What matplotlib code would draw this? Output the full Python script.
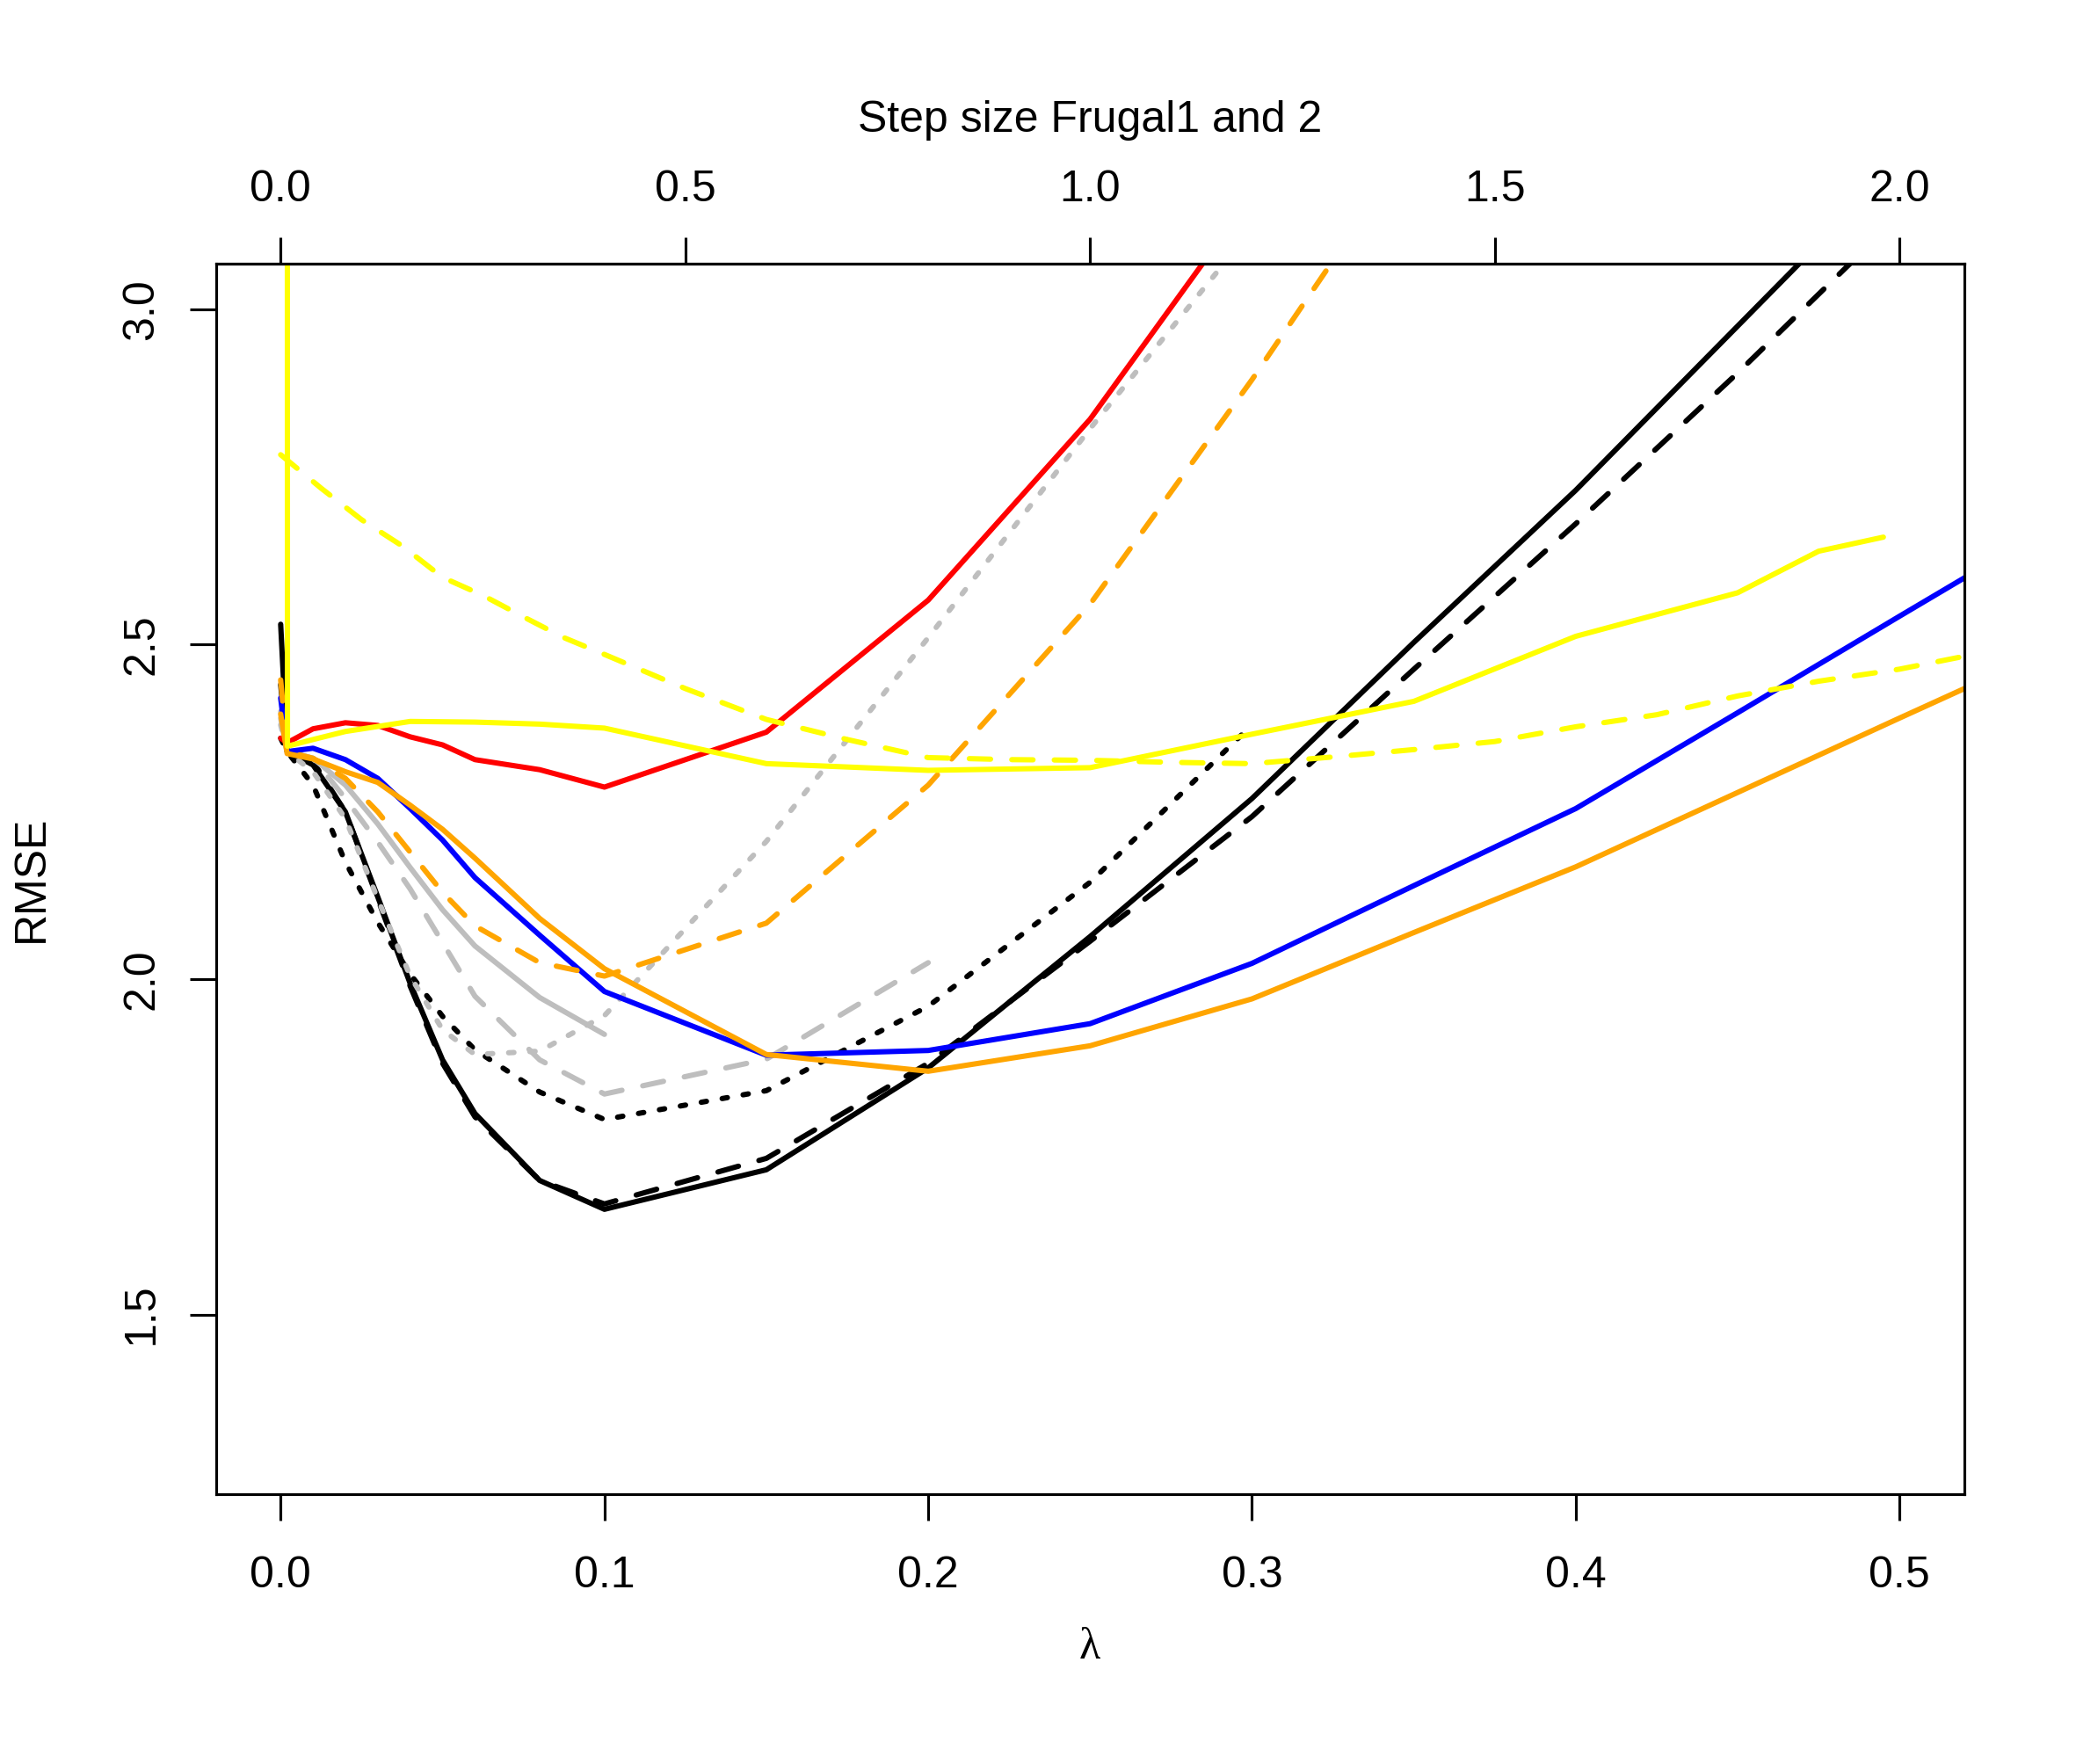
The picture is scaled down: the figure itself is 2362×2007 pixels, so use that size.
import matplotlib
matplotlib.use("Agg")
import matplotlib.pyplot as plt
import numpy as np

plt.rcParams['font.family'] = ['Liberation Sans', 'DejaVu Sans']
plt.rcParams['font.size'] = 12

# ---- data ----
lam = [0, 0.002, 0.01, 0.02, 0.03, 0.04, 0.05, 0.06, 0.08, 0.1,
       0.15, 0.2, 0.25, 0.3, 0.35, 0.4, 0.45, 0.5, 0.55]

black_solid = [2.53, 2.341, 2.32, 2.25, 2.123, 1.994, 1.88, 1.80, 1.70, 1.657,
               1.716, 1.868, 2.064, 2.27, 2.503, 2.730, 2.975, 3.22]
black_dashed = [2.44, 2.34, 2.325, 2.25, 2.12, 1.99, 1.875, 1.795, 1.70, 1.665,
                1.733, 1.875, 2.057, 2.243, 2.463, 2.68, 2.905, 3.14]
black_dotted = [2.36, 2.34, 2.29, 2.175, 2.085, 2.008, 1.945, 1.895, 1.832, 1.791,
                1.834, 1.96, 2.145, 2.38]
grey_solid = [2.40, 2.34, 2.33, 2.29, 2.232, 2.167, 2.104, 2.05, 1.973, 1.918]
grey_dashed = [2.39, 2.34, 2.33, 2.27, 2.205, 2.135, 2.055, 1.975, 1.88, 1.829,
               1.881, 2.025]
grey_dotted = [2.38, 2.34, 2.31, 2.24, 2.12, 2.005, 1.925, 1.888, 1.893, 1.946,
               2.206, 2.51, 2.822, 3.12]
blue = [2.42, 2.34, 2.345, 2.328, 2.30, 2.255, 2.208, 2.152, 2.066, 1.982,
        1.887, 1.894, 1.934, 2.024, 2.14, 2.255, 2.398, 2.542, 2.685]
red = [2.36, 2.353, 2.374, 2.383, 2.379, 2.362, 2.350, 2.328, 2.313, 2.287,
       2.369, 2.566, 2.836, 3.17]
orange_solid = [2.396, 2.337, 2.329, 2.31, 2.294, 2.26, 2.224, 2.181, 2.091, 2.016,
                1.888, 1.863, 1.901, 1.971, 2.07, 2.168, 2.279, 2.39, 2.50]
orange_dashed = [2.447, 2.34, 2.33, 2.30, 2.25, 2.19, 2.13, 2.08, 2.025, 2.005,
                 2.084, 2.29, 2.56, 2.895, 3.25]

frugal1_x = [0.002, 0.0021, 0.01, 0.02, 0.04, 0.06, 0.08, 0.1, 0.15, 0.2,
             0.25, 0.3, 0.35, 0.4, 0.45, 0.475, 0.495]
yellow_solid = [5.0, 2.348, 2.358, 2.370, 2.385, 2.384, 2.381, 2.375, 2.322, 2.312,
                2.316, 2.366, 2.415, 2.512, 2.577, 2.639, 2.660]
frugal2_x = [0, 0.0125, 0.025, 0.0375, 0.05, 0.0625, 0.075, 0.0875, 0.1, 0.125,
             0.15, 0.175, 0.2, 0.225, 0.25, 0.275, 0.3, 0.325, 0.35, 0.375,
             0.4, 0.425, 0.45, 0.475, 0.5, 0.525]
yellow_dashed = [2.783, 2.733, 2.686, 2.647, 2.60, 2.573, 2.541, 2.51, 2.485, 2.434,
                 2.388, 2.358, 2.331, 2.328, 2.327, 2.324, 2.322, 2.332, 2.343, 2.355,
                 2.377, 2.395, 2.423, 2.445, 2.463, 2.487]

x_ticks = [0.0, 0.1, 0.2, 0.3, 0.4, 0.5]
y_ticks = [1.5, 2.0, 2.5, 3.0]
top_ticks = [0.0, 0.5, 1.0, 1.5, 2.0]

# ---- figure ----
fig = plt.figure(figsize=(2362 / 300, 2007 / 300), dpi=300)
ax = fig.add_axes([0.1040, 0.1530, 0.8422, 0.6975])

LW = 1.45
solid = '-'
dashed = (0, (4, 4))
dotted = (0, (1, 3))

def draw(x, y, color, ls):
    ax.plot(x[:len(y)], y, color=color, lw=LW, linestyle=ls,
            solid_capstyle='round', dash_capstyle='round',
            solid_joinstyle='round', dash_joinstyle='round')

draw(lam, black_solid, 'black', solid)
draw(lam, black_dashed, 'black', dashed)
draw(lam, black_dotted, 'black', dotted)
draw(lam, grey_solid, '#BEBEBE', solid)
draw(lam, grey_dashed, '#BEBEBE', dashed)
draw(lam, grey_dotted, '#BEBEBE', dotted)
draw(lam, blue, '#0000FF', solid)
draw(lam, red, '#FF0000', solid)
draw(lam, orange_solid, '#FFA500', solid)
draw(lam, orange_dashed, '#FFA500', dashed)
draw(frugal1_x, yellow_solid, '#FFFF00', solid)
draw(frugal2_x, yellow_dashed, '#FFFF00', dashed)

ax.set_xlim(-0.02, 0.52)
ax.set_ylim(1.232, 3.068)
ax.set_xticks(x_ticks)
ax.set_xticklabels([f"{v:.1f}" for v in x_ticks])
ax.set_yticks(y_ticks)
ax.set_yticklabels([f"{v:.1f}" for v in y_ticks])

for s in ax.spines.values():
    s.set_linewidth(0.75)

ax.tick_params(axis='both', direction='out', length=7.2, width=0.75, labelsize=12)
ax.tick_params(axis='x', pad=9.5)
ax.tick_params(axis='y', pad=7.5)
for lab in ax.get_yticklabels():
    lab.set_rotation(90)
    lab.set_va('center')
    lab.set_ha('right')

sec = ax.secondary_xaxis('top', functions=(lambda x: 4 * np.asarray(x), lambda x: np.asarray(x) / 4))
sec.set_xticks(top_ticks)
sec.set_xticklabels([f"{v:.1f}" for v in top_ticks])
sec.tick_params(direction='out', length=7.2, width=0.75, labelsize=12, pad=7.5)
sec.spines['top'].set_linewidth(0.75)

fig.text(0.5250, 1 - 150 / 2007, "Step size Frugal1 and 2", ha='center', va='baseline', fontsize=12)
fig.text(0.5250, 1 - 1887 / 2007, "λ", ha='center', va='baseline', fontsize=12,
         family=['Liberation Serif', 'DejaVu Serif'])
fig.text(36 / 2362, 1 - 1000 / 2007, "RMSE", ha='center', va='center', rotation=90, fontsize=12)

fig.savefig("out.png", dpi=300)
